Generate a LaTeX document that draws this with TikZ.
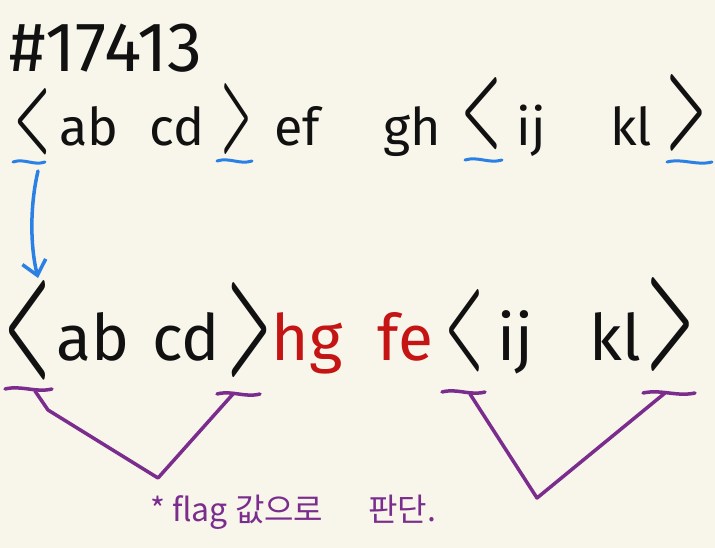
\documentclass[tikz,border=0pt]{standalone}
\usepackage{fontspec}
\setmainfont{Fira Sans}
\newfontfamily\kofont{Noto Sans CJK KR}
\newfontfamily\thinfont{lmroman10-bold.otf}
\usetikzlibrary{arrows.meta}
\definecolor{Paper}{HTML}{F8F5EA}
\definecolor{Ink}{HTML}{111111}
\definecolor{Marker}{HTML}{C41414}
\definecolor{Sky}{HTML}{2A80E4}
\definecolor{Grape}{HTML}{7B2D8E}
\newcommand\tallchar[3]{\resizebox{#1pt}{#2pt}{#3}}
\tikzset{
 hand/.style={inner sep=0pt,anchor=base,text=Ink},
 small/.style={hand,font=\fontsize{52}{60}\selectfont},
 big/.style={hand,font=\fontsize{64}{80}\selectfont},
 swap/.style={big,text=Marker},
 brk/.style={inner sep=0pt,anchor=south,text=Ink,font=\thinfont\fontsize{36}{36}\selectfont},
 tick/.style={draw=Sky,line width=3pt,line cap=round},
 ptick/.style={draw=Grape,line width=3.5pt,line cap=round},
 flow/.style={draw=Sky,line width=3.5pt,line cap=round,-{Straight Barb[length=14pt,width=24pt]}},
 link/.style={draw=Grape,line width=3.5pt,line cap=round,line join=round},
 note/.style={inner sep=0pt,anchor=base west,text=Grape,font=\kofont\fontsize{32}{36}\selectfont}
}

\begin{document}
\begin{tikzpicture}[x=1pt,y=-1pt]
\fill[Paper] (0,0) rectangle (715,548);
\useasboundingbox (0,0) rectangle (715,548);
\node[hand,anchor=base west,font=\fontsize{70}{70}\selectfont] (num) at (9,72) {\#17413};
% original line
\node[brk] (a1) at (32,155) {\tallchar{36}{58}{<}};
\node[small] (w1) at (89,146) {ab};
\node[small] (w2) at (177,146) {cd};
\node[brk] (a2) at (236,155) {\tallchar{30}{62}{>}};
\node[small] (w3) at (297,146) {ef};
\node[small] (w4) at (412,146) {gh};
\node[brk] (a3) at (481,150) {\tallchar{40}{63}{<}};
\node[small] (w5) at (531,146) {ij};
\node[small] (w6) at (631,146) {kl};
\node[brk] (a4) at (686,152) {\tallchar{40}{67}{>}};
% reversed line
\node[brk] (b1) at (27,380) {\tallchar{46}{87}{<}};
\node[big] (x1) at (93,360) {ab};
\node[big] (x2) at (186,360) {cd};
\node[brk] (b2) at (249,378) {\tallchar{44}{83}{>}};
\node[swap] (x3) at (307,360) {hg};
\node[swap] (x4) at (405,360) {fe};
\node[brk] (b3) at (464,372) {\tallchar{38}{72}{<}};
\node[big] (x5) at (515,360) {ij};
\node[big] (x6) at (615,360) {kl};
\node[brk] (b4) at (670,372) {\tallchar{48}{82}{>}};
% underlines
\foreach \n/\x/\y/\w in {1/13/162/32,2/217/161/35,3/465/160/37,4/667/162/45}
  \draw[tick] (\x,\y) .. controls +(0.35*\w,-4) and +(-0.35*\w,4) .. +(\w,0) coordinate[pos=0.5] (u\n);
\foreach \n/\x/\y/\w in {1/5/389/47,2/217/394/43,3/442/392/43,4/643/393/52}
  \draw[ptick] (\x,\y) .. controls +(0.35*\w,-4) and +(-0.35*\w,4) .. +(\w,0);
\coordinate (tip) at (38,278);
\draw[flow] (38,171) .. controls (30,205) and (30,245) .. (tip);
\coordinate (v1) at (158,478);
\coordinate (v2) at (537,498);
\draw[link] (35,391) -- (48,410) -- (v1) -- (233,394);
\draw[link] (470,394) -- (v2) -- (665,393);
\node[note] (memo) at (150,521) {* flag 값으로\hspace{45pt}판단.};
\end{tikzpicture}
\end{document}
